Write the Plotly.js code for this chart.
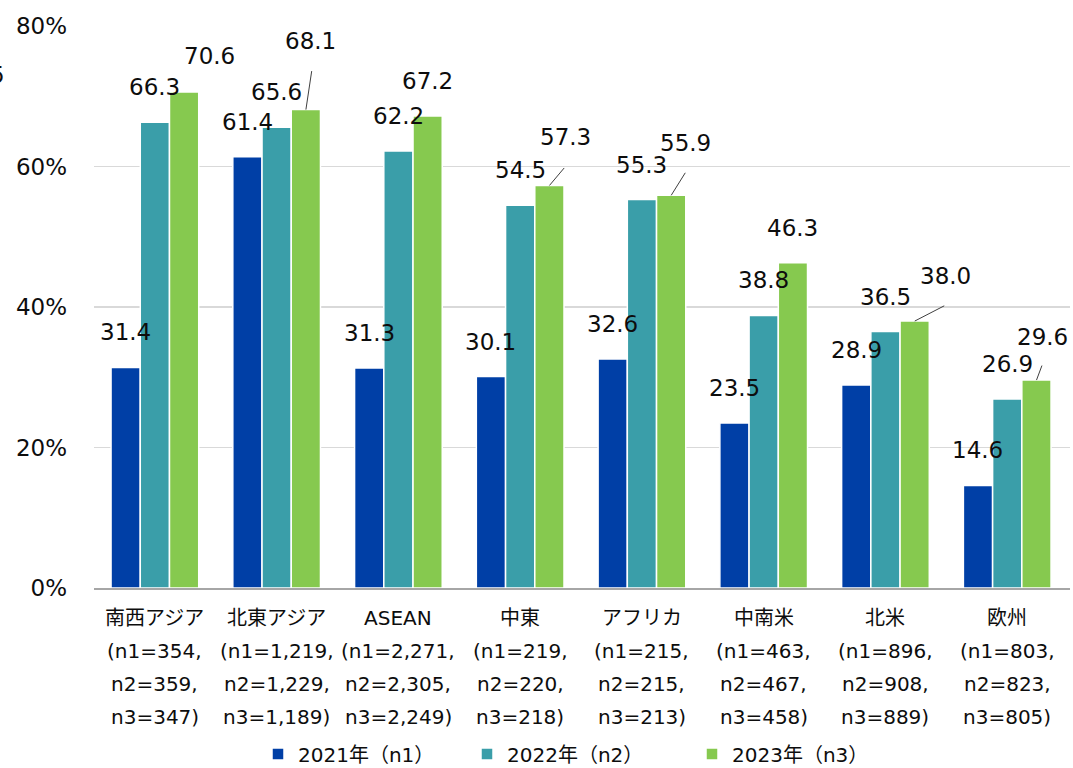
<!DOCTYPE html>
<html>
<head>
<meta charset="utf-8">
<script src="https://cdn.plot.ly/plotly-3.0.1.min.js"></script>
<style>
  html, body { margin: 0; padding: 0; background: #ffffff; }
  #chart { width: 1073px; height: 768px; }
</style>
</head>
<body>
<div id="chart"></div>
<script>
// Regions and respondent counts for each survey year
const regions = ['南西アジア', '北東アジア', 'ASEAN', '中東', 'アフリカ', '中南米', '北米', '欧州'];
const n1 = ['354', '1,219', '2,271', '219', '215', '463', '896', '803'];
const n2 = ['359', '1,229', '2,305', '220', '215', '467', '908', '823'];
const n3 = ['347', '1,189', '2,249', '218', '213', '458', '889', '805'];

// Share of respondents (%)
const y2021 = [31.4, 61.4, 31.3, 30.1, 32.6, 23.5, 28.9, 14.6];
const y2022 = [66.3, 65.6, 62.2, 54.5, 55.3, 38.8, 36.5, 26.9];
const y2023 = [70.6, 68.1, 67.2, 57.3, 55.9, 46.3, 38.0, 29.6];

const seriesNames = ['2021年（n1）', '2022年（n2）', '2023年（n3）'];
const seriesColors = ['#003fa6', '#3a9ea9', '#86c94f'];

const yTickVals = [0, 20, 40, 60, 80];
const yTickText = ['0%', '20%', '40%', '60%', '80%'];

// ---- geometry ----
const FONT = '"DejaVu Sans", Verdana, "Noto Sans CJK JP", sans-serif';
const TEXT = '#0d0d0d';
const W = 1073, H = 768;
const M = { l: 94, r: 3, t: 26, b: 180, autoexpand: false };
const plotW = W - M.l - M.r;
const plotH = H - M.t - M.b;
const BARGAP = 0.28;
const slotPx = plotW / regions.length;
const barPx = slotPx * (1 - BARGAP) / 3;

const seriesValues = [y2021, y2022, y2023];

// Value labels sit 35px above their bar; a few are moved aside,
// some with a thin leader line back to the bar top.
const LABEL_UP = 35;
const labelMoves = {
  '2-0': { dx: 25, dy: -36 },
  '2-1': { dx: 5,  dy: -69, line: [6, -40] },
  '2-3': { dx: 16, dy: -48, line: [16, -19] },
  '2-4': { dx: 14, dy: -52, line: [15, -24] },
  '2-6': { dx: 31, dy: -45, line: [31, -16] },
  '2-7': { dx: 6,  dy: -43, line: [6, -16] }
};

const annotations = [];

seriesValues.forEach((vals, s) => {
  const off = (s - 1) * barPx;
  vals.forEach((v, i) => {
    const mv = labelMoves[s + '-' + i] || { dx: 0, dy: -LABEL_UP };
    annotations.push({
      x: regions[i], y: v, xref: 'x', yref: 'y',
      xshift: off + mv.dx, yshift: -mv.dy,
      text: v.toFixed(1), showarrow: false,
      xanchor: 'center', yanchor: 'middle',
      font: { family: FONT, size: 23, color: TEXT }
    });
    if (mv.line) {
      annotations.push({
        x: regions[i], y: v, xref: 'x', yref: 'y',
        xshift: off, text: '', showarrow: true,
        arrowhead: 0, arrowwidth: 1, arrowcolor: '#3f3f3f',
        ax: mv.line[0], ay: mv.line[1], standoff: 0
      });
    }
  });
});

// Category labels: region name and sample sizes, one line each
const lineDrops = [29.5, 62.5, 96, 129];
regions.forEach((r, i) => {
  const lines = [r, '(n1=' + n1[i] + ',', 'n2=' + n2[i] + ',', 'n3=' + n3[i] + ')'];
  lines.forEach((t, k) => {
    annotations.push({
      x: r, y: 0, xref: 'x', yref: 'paper',
      yshift: -lineDrops[k], text: t, showarrow: false,
      xanchor: 'center', yanchor: 'middle',
      font: { family: FONT, size: 20, color: TEXT }
    });
  });
});

// Clipped figure at the left edge
annotations.push({
  x: 0, y: (H - M.b - 75) / plotH, xref: 'paper', yref: 'paper', xshift: -87,
  text: '5', showarrow: false, xanchor: 'right', yanchor: 'middle',
  font: { family: FONT, size: 23, color: TEXT }
});

const legendIds = ['legend', 'legend2', 'legend3'];
const traces = seriesValues.map((vals, s) => ({
  type: 'bar',
  x: regions,
  y: vals,
  name: seriesNames[s],
  legend: legendIds[s],
  marker: { color: seriesColors[s], line: { color: '#ffffff', width: 1.5 } },
  hoverinfo: 'skip'
}));

function legendAt(xPix) {
  return {
    orientation: 'h',
    x: (xPix - M.l) / plotW, xanchor: 'left',
    y: -(754 - (H - M.b)) / plotH, yanchor: 'middle',
    entrywidth: 190, entrywidthmode: 'pixels',
    bgcolor: 'rgba(0,0,0,0)', borderwidth: 0,
    font: { family: FONT, size: 20, color: TEXT }
  };
}

const layout = {
  width: W, height: H,
  margin: M,
  paper_bgcolor: '#ffffff',
  plot_bgcolor: '#ffffff',
  font: { family: FONT, color: TEXT },
  barmode: 'group',
  bargap: BARGAP,
  bargroupgap: 0,
  showlegend: true,
  legend: legendAt(258),
  legend2: legendAt(467),
  legend3: legendAt(692),
  xaxis: {
    type: 'category',
    showticklabels: false,
    showgrid: false,
    showline: true,
    linecolor: '#a6a6a6',
    linewidth: 1.5,
    ticks: '',
    fixedrange: true
  },
  yaxis: {
    range: [0, 80],
    tickvals: yTickVals,
    ticktext: yTickText,
    tickfont: { family: FONT, size: 23, color: TEXT },
    showgrid: true,
    gridcolor: '#d9d9d9',
    gridwidth: 1.5,
    zeroline: false,
    showline: false,
    ticks: '',
    ticklabelstandoff: 26,
    fixedrange: true
  },
  annotations: annotations
};

Plotly.newPlot('chart', traces, layout, { displayModeBar: false, staticPlot: true });
</script>
</body>
</html>
